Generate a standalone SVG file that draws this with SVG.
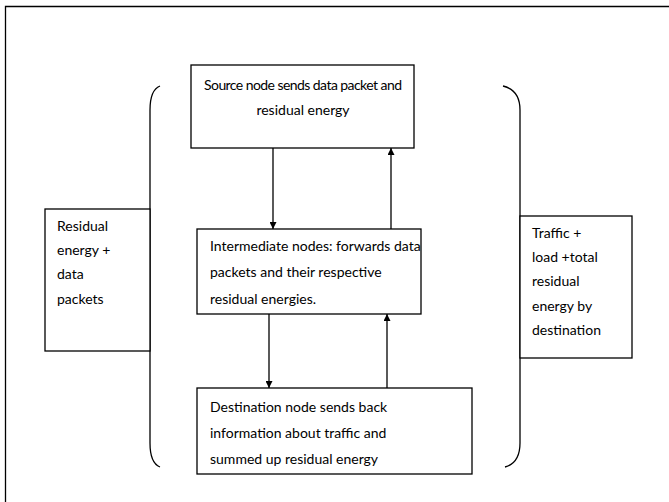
<svg xmlns="http://www.w3.org/2000/svg" width="669" height="502" viewBox="0 0 669 502">
<style>
.box{fill:#fff;stroke:#000;stroke-width:1.3}
.t{font-family:Lato,"Liberation Sans",sans-serif;font-size:14px;fill:#000}
.c{fill:none;stroke:#000;stroke-width:1.3}
</style>
<defs>
<marker id="ah" viewBox="0 0 10 10" refX="10" refY="5" markerWidth="8" markerHeight="7" markerUnits="userSpaceOnUse" orient="auto">
<path d="M0,0 L10,5 L0,10 Z" fill="#000"/>
</marker>
</defs>
<rect width="669" height="502" fill="#fff"/>
<path d="M669,6.5 H5.5 V502" class="c"/>
<g id="brackets">
<path d="M160,86 Q150,90 150,110 V443 Q150,463 160,467" class="c"/>
<path d="M503,86 Q520,90 520,110 V443 Q520,463 505,467" class="c"/>
</g>
<g id="source">
<rect x="191" y="65" width="223" height="83" class="box"/>
<text class="t" x="303" y="90" text-anchor="middle" font-size="13.6" textLength="198" lengthAdjust="spacing">Source node sends data packet and</text>
<text class="t" x="303" y="115" text-anchor="middle">residual energy</text>
</g>
<g id="intermediate">
<rect x="197" y="229" width="224" height="85" class="box"/>
<text class="t" x="210" y="251">Intermediate nodes: forwards data</text>
<text class="t" x="210" y="277">packets and their respective</text>
<text class="t" x="210" y="304">residual energies.</text>
</g>
<g id="destination">
<rect x="197" y="388" width="275" height="86" class="box"/>
<text class="t" x="210" y="412">Destination node sends back</text>
<text class="t" x="210" y="438">information about traffic and</text>
<text class="t" x="210" y="464">summed up residual energy</text>
</g>
<g id="left-label">
<rect x="45" y="209" width="105" height="142" class="box"/>
<text class="t" x="57" y="231">Residual</text>
<text class="t" x="57" y="255">energy +</text>
<text class="t" x="57" y="279">data</text>
<text class="t" x="57" y="304">packets</text>
</g>
<g id="right-label">
<rect x="520" y="216" width="112" height="142" class="box"/>
<text class="t" x="532" y="238">Traffic +</text>
<text class="t" x="532" y="262">load +total</text>
<text class="t" x="532" y="286">residual</text>
<text class="t" x="532" y="311">energy by</text>
<text class="t" x="532" y="335">destination</text>
</g>
<g id="connectors">
<line x1="273" y1="148" x2="273" y2="229" class="c" stroke-width="1.6" marker-end="url(#ah)"/>
<line x1="391" y1="229" x2="391" y2="148" class="c" marker-end="url(#ah)"/>
<line x1="269" y1="314" x2="269" y2="388" class="c" stroke-width="1.6" marker-end="url(#ah)"/>
<line x1="387" y1="388" x2="387" y2="314" class="c" marker-end="url(#ah)"/>
</g>
</svg>
